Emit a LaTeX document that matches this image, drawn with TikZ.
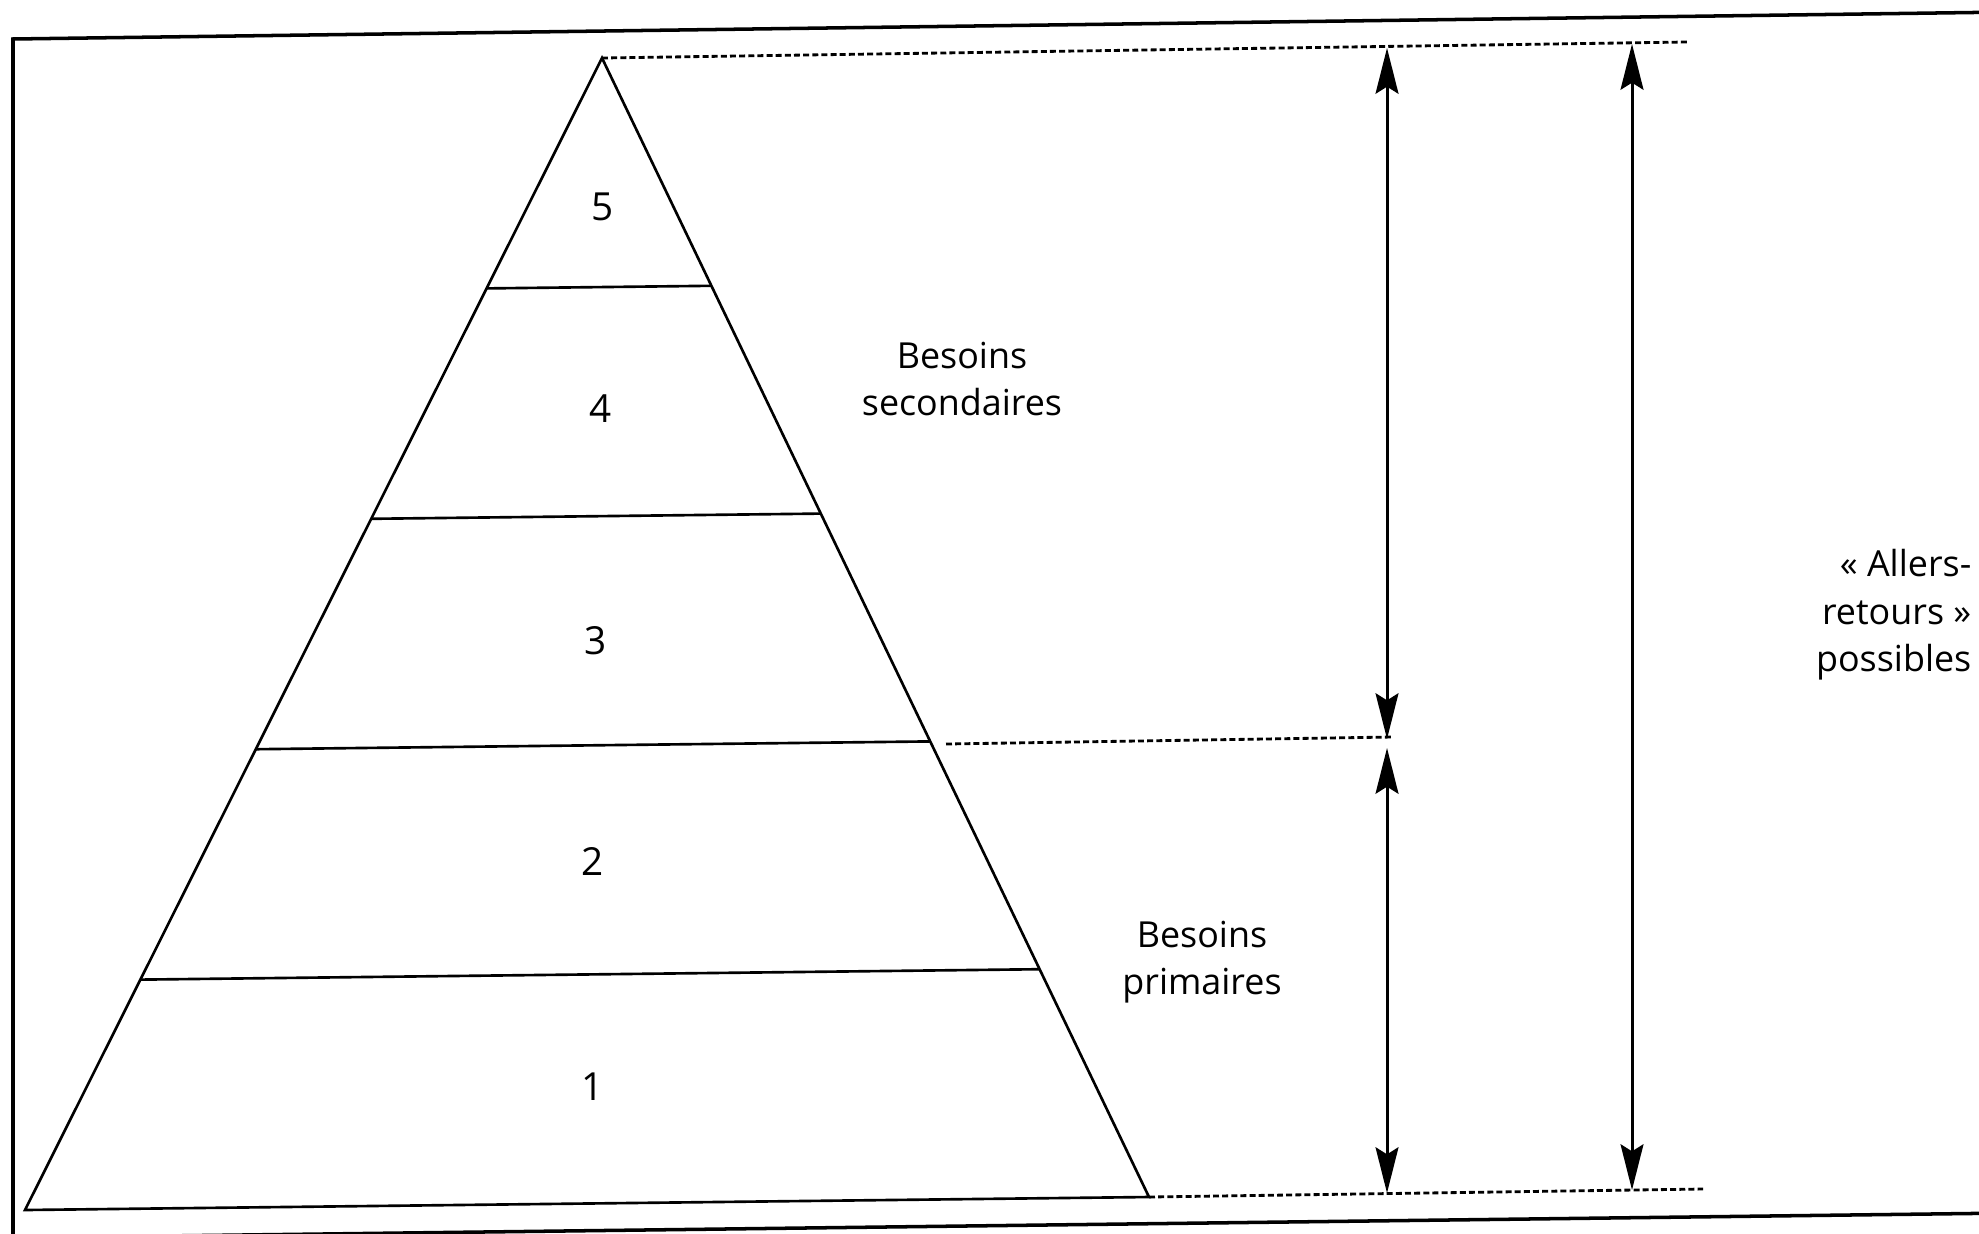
\documentclass[tikz,border=0pt]{standalone}
\usepackage{fontspec}
\setmainfont{Open Sans}
\usetikzlibrary{arrows.meta,calc}
\begin{document}
\begin{tikzpicture}[x=0.01cm,y=-0.01cm,
  pyr/.style={line width=0.75pt, line join=miter},
  frm/.style={line width=1.0pt},
  dots/.style={line width=0.8pt, dash pattern=on 1.7pt off 0.9pt},
  dblarrow/.style={line width=0.85pt, {Stealth[length=13pt,width=6.5pt,inset=2pt]}-{Stealth[length=13pt,width=6.5pt,inset=2pt]}},
  lbl/.style={font=\fontsize{10.2}{13.5}\selectfont, inner sep=0pt, align=center},
  num/.style={font=\fontsize{11}{12}\selectfont, inner sep=0pt}
]
\useasboundingbox (0,0) rectangle (1979,1233);
\clip (0,0) rectangle (1979,1233);
\fill[white] (0,0) rectangle (1979,1233);
% frame
\coordinate (fbl) at (13,1260);
\coordinate (ftl) at (13,39);
\coordinate (ftr) at (2010,12);
\coordinate (fb1) at (0,1238);
\coordinate (fb2) at (2010,1213);
\draw[frm] (fbl) -- (ftl) -- (ftr);
\draw[frm] (fb1) -- (fb2);
% pyramid
\coordinate (apex) at (602,58);
\coordinate (bl) at (25,1210);
\coordinate (br) at (1149,1197);
\draw[pyr] (bl) -- (apex) -- (br) -- cycle;
\foreach \f/\n in {0.2/a,0.4/b,0.6/c,0.8/d}{
  \coordinate (L\n) at ($(apex)!\f!(bl)$);
  \coordinate (R\n) at ($(apex)!\f!(br)$);
  \draw[pyr] (L\n) -- (R\n);
}
% dotted guide lines
\coordinate (t2) at (1687,42);
\coordinate (m1) at (946,744);
\coordinate (m2) at (1392,737);
\coordinate (b2) at (1703,1189);
\draw[dots] (apex) -- (t2);
\draw[dots] (m1) -- (m2);
\draw[dots] (br) -- (b2);
% arrows
\coordinate (a1) at (1387,48);
\coordinate (a2) at (1387,739);
\coordinate (a3) at (1387,748);
\coordinate (a4) at (1387,1193);
\coordinate (c1) at (1632,44);
\coordinate (c2) at (1632,1190);
\draw[dblarrow] (a1) -- (a2);
\draw[dblarrow] (a3) -- (a4);
\draw[dblarrow] (c1) -- (c2);
% numbers
\node[num] (n5) at (603,207) {5};
\node[num] (n4) at (601,409) {4};
\node[num] (n3) at (596,641) {3};
\node[num] (n2) at (593,861) {2};
\node[num] (n1) at (593,1087) {1};
% labels
\node[lbl] (sec) at (962,379) {Besoins\\secondaires};
\node[lbl] (prim) at (1202,962) {Besoins\\primaires};
\node[lbl, align=right, anchor=east] (ar) at (1972,615) {« Allers-\\retours »\\possibles};
\end{tikzpicture}
\end{document}
